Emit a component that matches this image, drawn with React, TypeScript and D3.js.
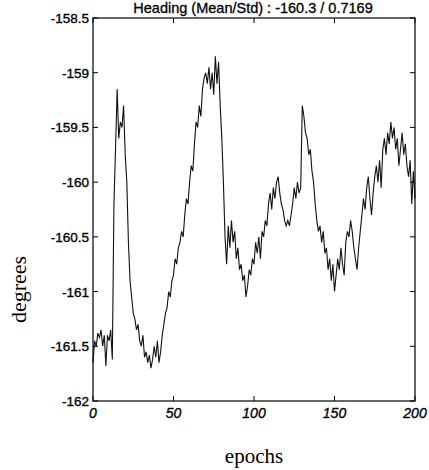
import React from "react";
import * as d3 from "d3";

const epochs: number[] = d3.range(0, 201);
const heading: number[] = [
  -161.65, -161.45, -161.5, -161.38, -161.42, -161.35, -161.5, -161.4, -161.68, -161.4,
  -161.45, -161.35, -161.62, -160.2, -159.7, -159.15, -159.6, -159.45, -159.5, -159.3,
  -159.75, -160.0, -160.55, -160.9, -161.05, -161.2, -161.25, -161.35, -161.3, -161.45,
  -161.5, -161.4, -161.6, -161.55, -161.65, -161.58, -161.7, -161.62, -161.5, -161.6,
  -161.45, -161.65, -161.55, -161.4, -161.3, -161.2, -161.15, -161.0, -161.05, -160.9,
  -160.85, -160.7, -160.75, -160.6, -160.55, -160.45, -160.5, -160.3, -160.15, -160.2,
  -160.0, -159.85, -159.9, -159.65, -159.45, -159.5, -159.3, -159.4, -159.15, -159.05,
  -159.0, -159.1, -158.95, -159.15, -159.0, -159.2, -158.85, -159.1, -158.9, -159.3,
  -159.6, -160.0, -160.5, -160.75, -160.4, -160.6, -160.35, -160.55, -160.45, -160.7,
  -160.6, -160.8, -160.75, -160.9, -160.85, -161.05, -160.95, -160.8, -160.85, -160.7,
  -160.75, -160.55, -160.65, -160.5, -160.7, -160.45, -160.5, -160.35, -160.4, -160.2,
  -160.1, -160.25, -160.05, -160.15, -160.0, -159.95, -160.1, -160.2, -160.25, -160.35,
  -160.4, -160.35, -160.4, -160.3, -160.2, -160.05, -160.15, -160.0, -160.1, -160.05,
  -159.3, -159.4, -159.55, -159.6, -159.75, -159.7, -159.9, -160.0, -160.2, -160.35,
  -160.45, -160.4, -160.55, -160.45, -160.65, -160.6, -160.8, -160.7, -160.9, -160.75,
  -161.0, -160.85, -160.7, -160.8, -160.6, -160.75, -160.85, -160.55, -160.45, -160.5,
  -160.35, -160.45, -160.6, -160.7, -160.8, -160.6, -160.45, -160.3, -160.15, -160.25,
  -160.05, -159.95, -160.15, -160.3, -160.1, -159.95, -159.85, -160.0, -159.8, -160.05,
  -159.7, -159.6, -159.75, -159.55, -159.65, -159.45, -159.6, -159.5, -159.7, -159.6,
  -159.85, -159.7, -159.55, -159.75, -159.65, -159.85, -159.95, -159.8, -160.2, -159.9,
  -160.15,
];
const xTicks: number[] = [0, 50, 100, 150, 200];
const yTicks: number[] = [-158.5, -159, -159.5, -160, -160.5, -161, -161.5, -162];
const titleText = "Heading (Mean/Std) : -160.3 / 0.7169";
const xLabel = "epochs";
const yLabel = "degrees";

const W = 429;
const H = 470;
const L = 93, R = 415, T = 18, B = 401;

export default function App() {
  const x = d3.scaleLinear().domain([0, 200]).range([L, R]);
  const y = d3.scaleLinear().domain([-162, -158.5]).range([B, T]);
  const line = d3
    .line<number>()
    .x((_, i) => x(epochs[i]))
    .y((d) => y(d));
  const sans = "'Liberation Sans', Arial, sans-serif";
  const serif = "'Liberation Serif', 'Times New Roman', serif";
  const tl = 5;
  return (
    <svg
      width={W}
      height={H}
      style={{ position: "absolute", left: 0, top: 0, background: "#fff" }}
    >
      <rect x={0} y={0} width={W} height={H} fill="#fff" />
      <path d={line(heading) || ""} fill="none" stroke="#111" strokeWidth={1.1} />
      <rect x={L} y={T} width={R - L} height={B - T} fill="none" stroke="#000" strokeWidth={1.2} />
      {xTicks.map((t) => (
        <g key={"x" + t}>
          <line x1={x(t)} x2={x(t)} y1={B} y2={B - tl} stroke="#000" />
          <line x1={x(t)} x2={x(t)} y1={T} y2={T + tl} stroke="#000" />
          <text
            x={x(t)}
            y={B + 17}
            textAnchor="middle"
            fontFamily={sans}
            fontStyle="italic"
            fontSize={14}
            fill="#000"
            stroke="#000"
            strokeWidth={0.35}
          >
            {t}
          </text>
        </g>
      ))}
      {yTicks.map((t) => (
        <g key={"y" + t}>
          <line x1={L} x2={L + tl} y1={y(t)} y2={y(t)} stroke="#000" />
          <line x1={R} x2={R - tl} y1={y(t)} y2={y(t)} stroke="#000" />
          <text
            x={L - 4}
            y={y(t) + 5}
            textAnchor="end"
            fontFamily={sans}
            fontSize={13.5}
            fill="#000"
            stroke="#000"
            strokeWidth={0.35}
          >
            {t}
          </text>
        </g>
      ))}
      <text
        x={253}
        y={T - 5}
        textAnchor="middle"
        fontFamily={sans}
        fontSize={14.5}
        fill="#000"
        stroke="#000"
        strokeWidth={0.3}
      >
        {titleText}
      </text>
      <text
        x={(L + R) / 2}
        y={H - 7}
        textAnchor="middle"
        fontFamily={serif}
        fontSize={21}
        fill="#000"
      >
        {xLabel}
      </text>
      <text
        transform={`translate(26, ${(T + B) / 2 + 80}) rotate(-90)`}
        textAnchor="middle"
        fontFamily={serif}
        fontSize={22}
        fill="#000"
      >
        {yLabel}
      </text>
    </svg>
  );
}
